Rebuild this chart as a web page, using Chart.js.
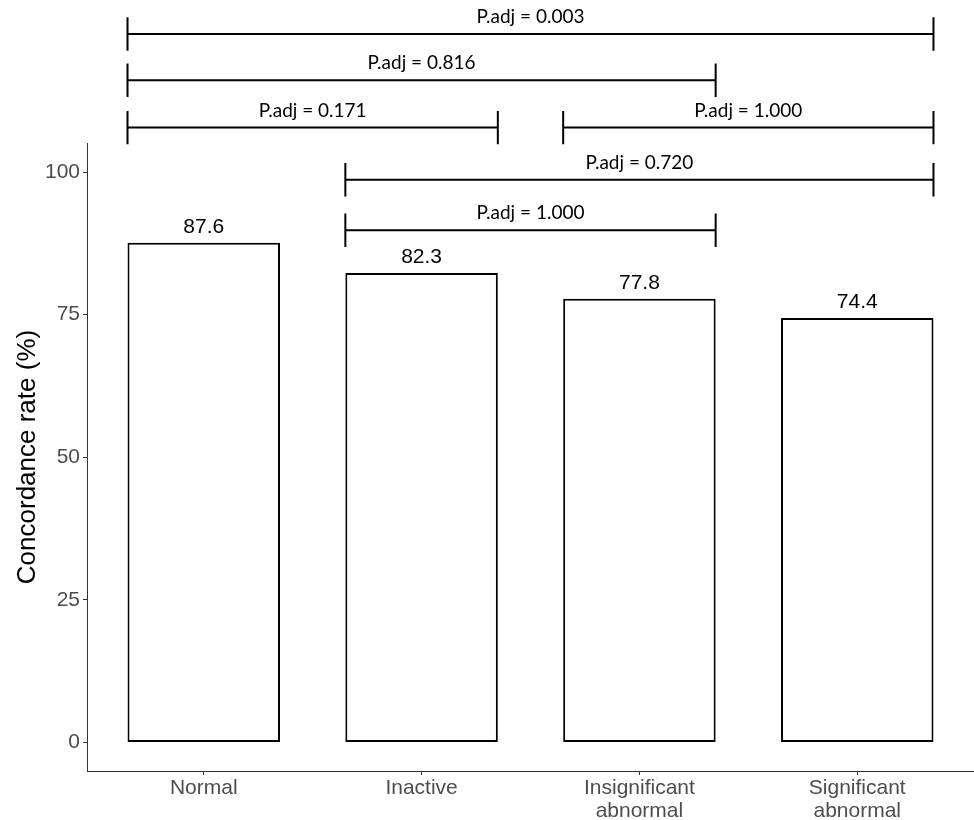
<!DOCTYPE html>
<html><head><meta charset="utf-8">
<script src="https://cdn.jsdelivr.net/npm/chart.js@4"></script>
<style>html,body{margin:0;padding:0;background:#fff}#wrap{width:974px;height:820px}</style>
</head><body><div id="wrap"><canvas id="c" width="974" height="820"></canvas></div>
<script>
// ---- data ----
const categories = [['Normal'], ['Inactive'], ['Insignificant', 'abnormal'], ['Significant', 'abnormal']];
const categoryPositions = [1, 2, 3, 4];
const concordance = [87.6, 82.3, 77.8, 74.4];
const yTicks = [0, 25, 50, 75, 100];
const bracketFrom = [1, 1, 1, 3, 2, 2];
const bracketTo = [4, 3, 2, 4, 4, 3];
const bracketY = [124.2, 116.1, 107.8, 107.8, 98.65, 89.8];
const bracketLabels = ['P.adj = 0.003', 'P.adj = 0.816', 'P.adj = 0.171', 'P.adj = 1.000', 'P.adj = 0.720', 'P.adj = 1.000'];

// ---- style constants ----
const BAR_FRACTION = 0.7;
const HALF_BAR = BAR_FRACTION / 2;
const TICK_HALF = 2.93;

const bracketDatasets = bracketY.map((yv, i) => {
  const x1 = bracketFrom[i] - HALF_BAR, x2 = bracketTo[i] + HALF_BAR;
  return {
    type: 'line',
    data: [
      {x: x1, y: yv + TICK_HALF}, {x: x1, y: yv - TICK_HALF}, {x: x1, y: yv},
      {x: x2, y: yv}, {x: x2, y: yv + TICK_HALF}, {x: x2, y: yv - TICK_HALF}
    ],
    borderColor: '#000', borderWidth: 2, pointRadius: 0, fill: false,
    clip: false, tension: 0, borderCapStyle: 'butt', borderJoinStyle: 'miter', order: 0
  };
});

const labelPlugin = {
  id: 'labels',
  afterDatasetsDraw(chart) {
    const {ctx, scales: {x, y}} = chart;
    ctx.save();
    ctx.fillStyle = '#000';
    ctx.textAlign = 'center';
    ctx.textBaseline = 'middle';
    ctx.font = '21px "Liberation Sans", Arial, sans-serif';
    concordance.forEach((v, i) => {
      ctx.fillText(v.toFixed(1), x.getPixelForValue(categoryPositions[i]), y.getPixelForValue(v) - 16);
    });
    ctx.font = '19px Lato, sans-serif';
    bracketY.forEach((b, i) => {
      const xm = (bracketFrom[i] + bracketTo[i]) / 2;
      ctx.fillText(bracketLabels[i], x.getPixelForValue(xm), y.getPixelForValue(b) - 17);
    });
    ctx.restore();
  }
};

new Chart(document.getElementById('c'), {
  type: 'bar',
  data: {
    datasets: [
      {
        type: 'bar',
        data: categoryPositions.map((xv, i) => ({x: xv, y: concordance[i]})),
        backgroundColor: '#fff', borderColor: '#000', borderWidth: 2, borderSkipped: false,
        barPercentage: BAR_FRACTION, categoryPercentage: 1, order: 1
      },
      ...bracketDatasets
    ]
  },
  options: {
    responsive: false,
    animation: false,
    layout: {padding: {top: 143, right: 0, left: 0, bottom: 0}},
    plugins: {legend: {display: false}, tooltip: {enabled: false}},
    scales: {
      x: {
        type: 'linear', min: 0.464, max: 4.536, offset: false,
        afterBuildTicks: s => { s.ticks = categoryPositions.map(v => ({value: v})); },
        afterFit: s => { s.height = 49; },
        grid: {offset: false, drawOnChartArea: false, drawTicks: true, tickLength: 4, tickColor: '#333'},
        border: {display: true, color: '#333', width: 1},
        ticks: {
          autoSkip: false, maxRotation: 0, padding: 2, color: '#4d4d4d',
          font: {family: '"Liberation Sans", Arial, sans-serif', size: 21, lineHeight: 1.1},
          callback: v => { const k = categoryPositions.indexOf(v); return k >= 0 ? categories[k] : ''; }
        }
      },
      y: {
        type: 'linear', min: -5, max: 105.1,
        afterBuildTicks: s => { s.ticks = yTicks.map(v => ({value: v})); },
        afterFit: s => { s.width = 87; },
        grid: {drawOnChartArea: false, drawTicks: true, tickLength: 4, tickColor: '#333'},
        border: {display: true, color: '#333', width: 1},
        ticks: {
          padding: 3, color: '#4d4d4d',
          font: {family: '"Liberation Sans", Arial, sans-serif', size: 21}
        },
        title: {
          display: true, text: 'Concordance rate (%)', color: '#000',
          font: {family: '"Liberation Sans", Arial, sans-serif', size: 26},
          padding: {top: 12, bottom: 0}
        }
      }
    }
  },
  plugins: [labelPlugin]
});
</script></body></html>
